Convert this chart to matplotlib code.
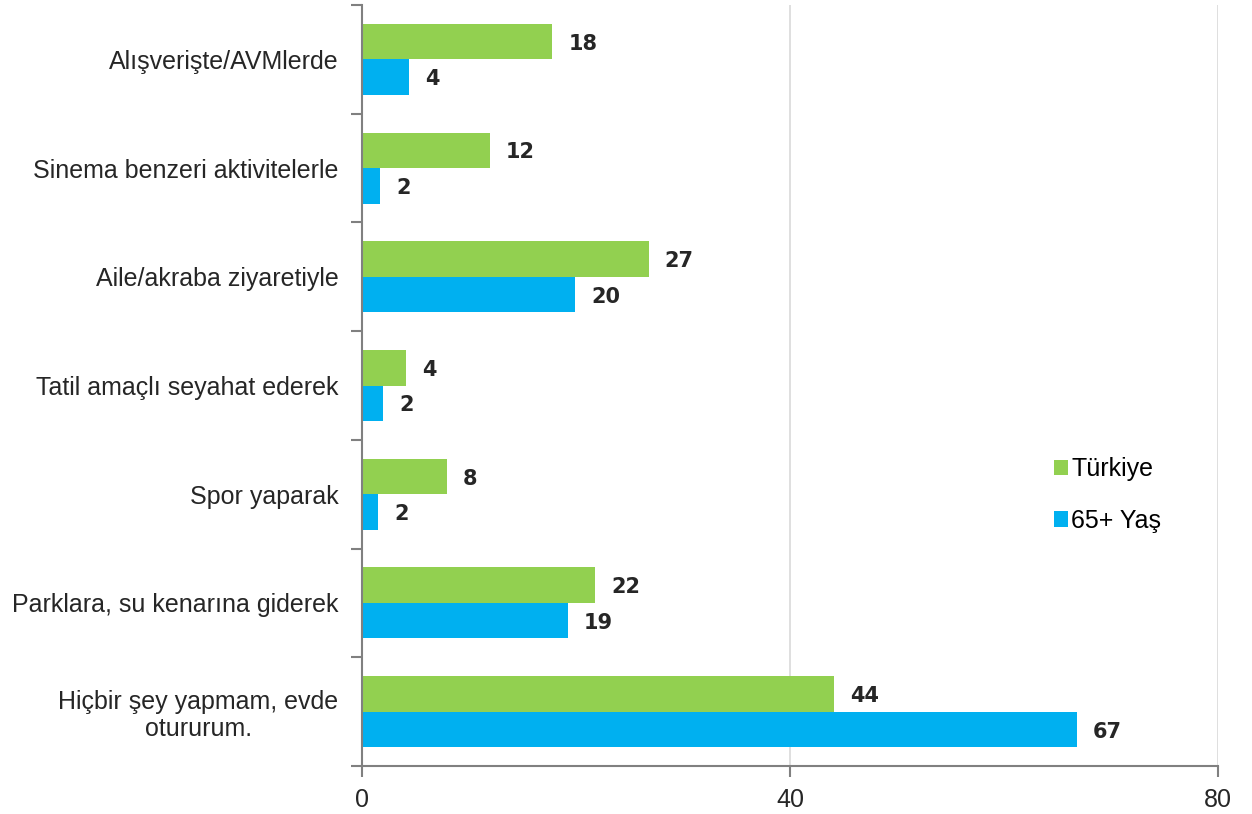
import matplotlib.pyplot as plt
import numpy as np

# categories (top to bottom) and values
categories = ['Alışverişte/AVMlerde', 'Sinema benzeri aktivitelerle',
              'Aile/akraba ziyaretiyle', 'Tatil amaçlı seyahat ederek',
              'Spor yaparak', 'Parklara, su kenarına giderek',
              'Hiçbir şey yapmam, evde\notururum.']
turkiye = [17.8, 11.95, 26.8, 4.1, 7.9, 21.8, 44.1]
yas65 = [4.4, 1.7, 19.9, 1.95, 1.5, 19.25, 66.8]
series_names = ['Türkiye', '65+ Yaş']
x_ticks = [0, 40, 80]

green = '#92D050'
blue = '#00B0F0'

plt.rcParams['font.family'] = ['Liberation Sans', 'DejaVu Sans']

fig = plt.figure(figsize=(12.52, 8.14), dpi=100)
ax = fig.add_axes([362/1252, 48/814, (1218-362)/1252, (809-48)/814])

y = np.arange(len(categories))
h = 0.327
b1 = ax.barh(y - h/2, turkiye, height=h, color=green, label=series_names[0])
b2 = ax.barh(y + h/2, yas65, height=h, color=blue, label=series_names[1])

for bars, vals in [(b1, turkiye), (b2, yas65)]:
    for bar, v in zip(bars, vals):
        ax.text(v + 1.5, bar.get_y() + bar.get_height()/2 + 0.02, f'{round(v):d}',
                va='center', ha='left', fontsize=15, fontweight='heavy',
                family='DejaVu Sans', color='#262626')

ax.set_ylim(len(categories) - 0.5, -0.5)
ax.set_xlim(0, 80)
ax.set_xticks(x_ticks)
ax.set_xticklabels([str(t) for t in x_ticks], fontsize=18, color='#262626',
                   family=['Liberation Sans Narrow', 'Liberation Sans'])
ax.set_yticks(y)
ax.set_yticklabels(categories, fontsize=18, color='#262626',
                   multialignment='center', linespacing=1.15)
ax.tick_params(axis='y', which='major', length=0, pad=17)
ax.set_yticks(np.arange(len(categories) + 1) - 0.5, minor=True)
ax.tick_params(axis='y', which='minor', length=8, color='#808080', width=1.5)
ax.tick_params(axis='x', length=8, color='#808080', width=1.5, pad=8)

ax.grid(axis='x', color='#d9d9d9', linewidth=1.2)
ax.set_axisbelow(True)
for s in ['top', 'right']:
    ax.spines[s].set_visible(False)
for s in ['left', 'bottom']:
    ax.spines[s].set_color('#808080')
    ax.spines[s].set_linewidth(1.5)

ax.legend(loc='center left', bbox_to_anchor=(0.782, 0.356), frameon=False,
          fontsize=18, handlelength=0.55, handleheight=0.55, handletextpad=0.15,
          labelspacing=1.1)

fig.savefig('out.png', dpi=100)
